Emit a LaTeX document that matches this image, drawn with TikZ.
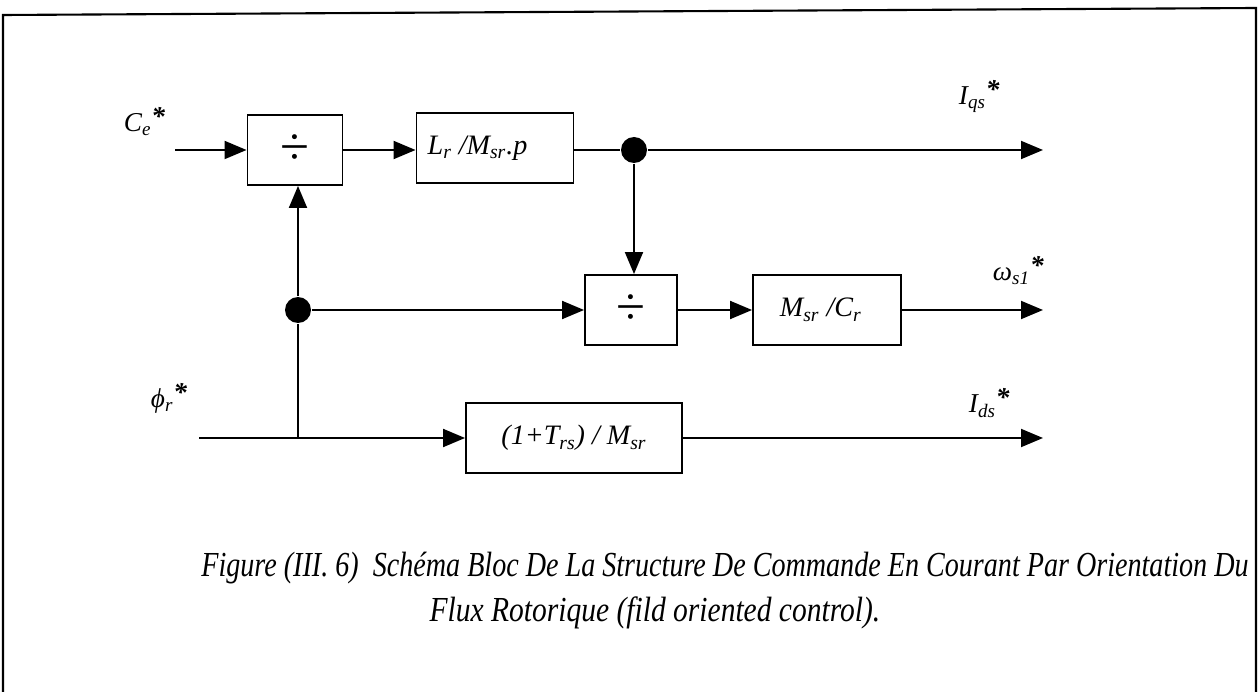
\documentclass[tikz,border=0pt]{standalone}
\usepackage{fontspec}
\setmainfont{Liberation Serif}
\usepackage{graphicx}
\usetikzlibrary{positioning, arrows.meta}

\newcommand{\refstar}{\raisebox{0.55ex}{\bfseries *}}

\begin{document}
\begin{tikzpicture}[
    x=0.02cm, y=-0.02cm,
    line width=1.1pt,
    font=\fontsize{15.5}{18}\selectfont\itshape,
    blk/.style={rectangle, draw=black, line width=1.1pt, fill=white, inner sep=0pt, minimum height=1.4cm, font=\fontsize{16}{18}\selectfont\itshape},
    divsym/.style={font=\upshape\fontsize{30}{30}\selectfont},
    junc/.style={circle, fill=black, inner sep=0pt, minimum size=0.52cm},
    sig/.style={-{Triangle[length=0.44cm, width=0.36cm]}},
    lbl/.style={inner sep=0pt, anchor=base west}
]
    \useasboundingbox (0,0) rectangle (1259,692);

    % frame
    \draw[line width=1.2pt] (3,692) -- (3,15) -- (1256,8) -- (1256,692);

    % upper row : torque reference
    \node[blk, divsym, minimum width=1.9cm] (div1) at (295,150) {÷};
    \node[blk, minimum width=3.14cm] (gain1) at (495,148) {L\textsubscript{r} /M\textsubscript{sr}.p\hspace*{0.7cm}};
    \node[junc] (dot1) at (634,150) {};
    \coordinate (cein) at (175,150);
    \coordinate (iqsout) at (1043,150);
    \draw[sig] (cein) -- (div1);
    \draw[sig] (div1) -- (gain1.west |- div1);
    \draw (gain1.east |- dot1) -- (dot1);
    \draw[sig] (dot1) -- (iqsout);

    % middle row : slip frequency
    \node[junc] (dot2) at (298,310) {};
    \node[blk, divsym, minimum width=1.84cm] (div2) at (631,310) {÷};
    \node[blk, minimum width=2.96cm] (gain2) at (827,310) {M\textsubscript{sr} /C\textsubscript{r}\hspace*{0.25cm}};
    \coordinate (wout) at (1043,310);
    \draw[sig] (dot1) -- (dot1 |- div2.north);
    \draw[sig] (dot2) -- (div2.west |- dot2);
    \draw[sig] (div2) -- (gain2);
    \draw[sig] (gain2) -- (wout);

    % lower row : flux reference
    \coordinate (phiin) at (199,438);
    \coordinate (jphi) at (298,438);
    \node[blk, minimum width=4.32cm] (gain3) at (574,438) {(1+T\textsubscript{rs}) / M\textsubscript{sr}};
    \coordinate (idsout) at (1043,438);
    \draw[sig] (phiin) -- (gain3);
    \draw (jphi) -- (dot2);
    \draw[sig] (dot2) -- (div1.south -| dot2);
    \draw[sig] (gain3) -- (idsout);

    % signal names
    \node[lbl] (lce) at (123,132) {C\textsubscript{e}\refstar};
    \node[lbl] (liqs) at (958,105) {I\textsubscript{qs}\refstar};
    \node[lbl] (lw) at (992,281) {ω\textsubscript{s1}\refstar};
    \node[lbl] (lphi) at (150,408) {ϕ\textsubscript{r}\refstar};
    \node[lbl] (lids) at (968,413) {I\textsubscript{ds}\refstar};

    % caption
    \node[inner sep=0pt, anchor=base] (cap1) at (725,577) {\fontsize{20}{24}\selectfont\scalebox{0.8}[1]{Figure (III. 6)\ \ Schéma Bloc De La Structure De Commande En Courant Par Orientation Du}};
    \node[inner sep=0pt, anchor=base] (cap2) at (655,622) {\fontsize{20}{24}\selectfont\scalebox{0.84}[1]{Flux Rotorique (fild oriented control).}};
\end{tikzpicture}
\end{document}
